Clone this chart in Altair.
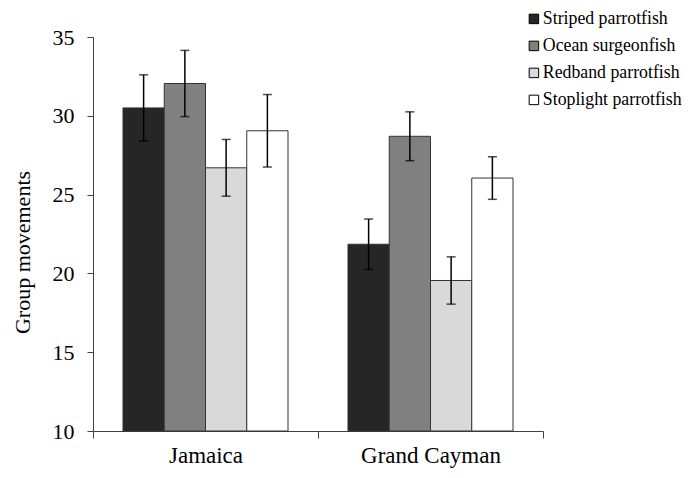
import altair as alt
import pandas as pd

sites = ["Jamaica", "Jamaica", "Jamaica", "Jamaica",
         "Grand Cayman", "Grand Cayman", "Grand Cayman", "Grand Cayman"]
species = ["Striped parrotfish", "Ocean surgeonfish", "Redband parrotfish", "Stoplight parrotfish"] * 2
means = [30.5, 32.05, 26.7, 29.05, 21.85, 28.7, 19.55, 26.05]
errs = [2.1, 2.1, 1.8, 2.3, 1.6, 1.55, 1.5, 1.35]

species_order = ["Striped parrotfish", "Ocean surgeonfish", "Redband parrotfish", "Stoplight parrotfish"]
species_colors = ["#262626", "#808080", "#d9d9d9", "#ffffff"]
site_order = ["Jamaica", "Grand Cayman"]
y_ticks = [10, 15, 20, 25, 30, 35]

df = pd.DataFrame({"site": sites, "species": species, "mean": means, "err": errs})
df["lo"] = df["mean"] - df["err"]
df["hi"] = df["mean"] + df["err"]
df["base"] = 10

FONT = "Liberation Serif"

x_enc = alt.X("site:N", sort=site_order, title=None,
              scale=alt.Scale(paddingInner=0, paddingOuter=0),
              axis=alt.Axis(labelAngle=0, labelFontSize=23, labelFont=FONT, labelColor="black",
                            tickBand="extent", tickSize=7, tickColor="#404040",
                            domainColor="#404040", labelPadding=6))
xoff = alt.XOffset("species:N", sort=species_order,
                   scale=alt.Scale(paddingInner=0, paddingOuter=0.727))

bars = alt.Chart(df).mark_bar(stroke="#333333", strokeWidth=1).encode(
    x=x_enc,
    xOffset=xoff,
    y=alt.Y("mean:Q", title="Group movements",
            scale=alt.Scale(domain=[10, 35], zero=False, nice=False),
            axis=alt.Axis(values=y_ticks, grid=False, labelFontSize=22, labelFont=FONT,
                          labelColor="black", tickSize=6, tickColor="#404040",
                          domainColor="#404040", labelPadding=13,
                          titleFont=FONT, titleFontSize=22, titleFontWeight="normal",
                          titleColor="black", titleX=-64, titleY=215,
                          titleBaseline="alphabetic")),
    y2="base:Q",
    color=alt.Color("species:N", sort=species_order,
                    scale=alt.Scale(domain=species_order, range=species_colors),
                    legend=alt.Legend(title=None, orient="none", legendX=432, legendY=-27,
                                      symbolType="square", symbolSize=90,
                                      symbolStrokeColor="black", symbolStrokeWidth=1,
                                      labelFont=FONT, labelFontSize=17.8, labelColor="black",
                                      labelOffset=0, rowPadding=8, padding=0)),
)

rules = alt.Chart(df).mark_rule(color="black", strokeWidth=1.5).encode(
    x=alt.X("site:N", sort=site_order),
    xOffset=xoff,
    y="lo:Q",
    y2="hi:Q",
)

caps_hi = alt.Chart(df).mark_tick(color="black", thickness=1.5, size=9, orient="horizontal").encode(
    x=alt.X("site:N", sort=site_order),
    xOffset=xoff,
    y="hi:Q",
)
caps_lo = alt.Chart(df).mark_tick(color="black", thickness=1.5, size=9, orient="horizontal").encode(
    x=alt.X("site:N", sort=site_order),
    xOffset=xoff,
    y="lo:Q",
)

chart = alt.layer(bars, rules, caps_hi, caps_lo).properties(
    width=450, height=394,
    autosize=alt.AutoSizeParams(type="none"),
    padding={"left": 85, "top": 29, "right": 141, "bottom": 39},
).configure_view(strokeWidth=0).configure_axis(grid=False)

chart.save("out.html", embed_options={"renderer": "svg", "actions": False})
